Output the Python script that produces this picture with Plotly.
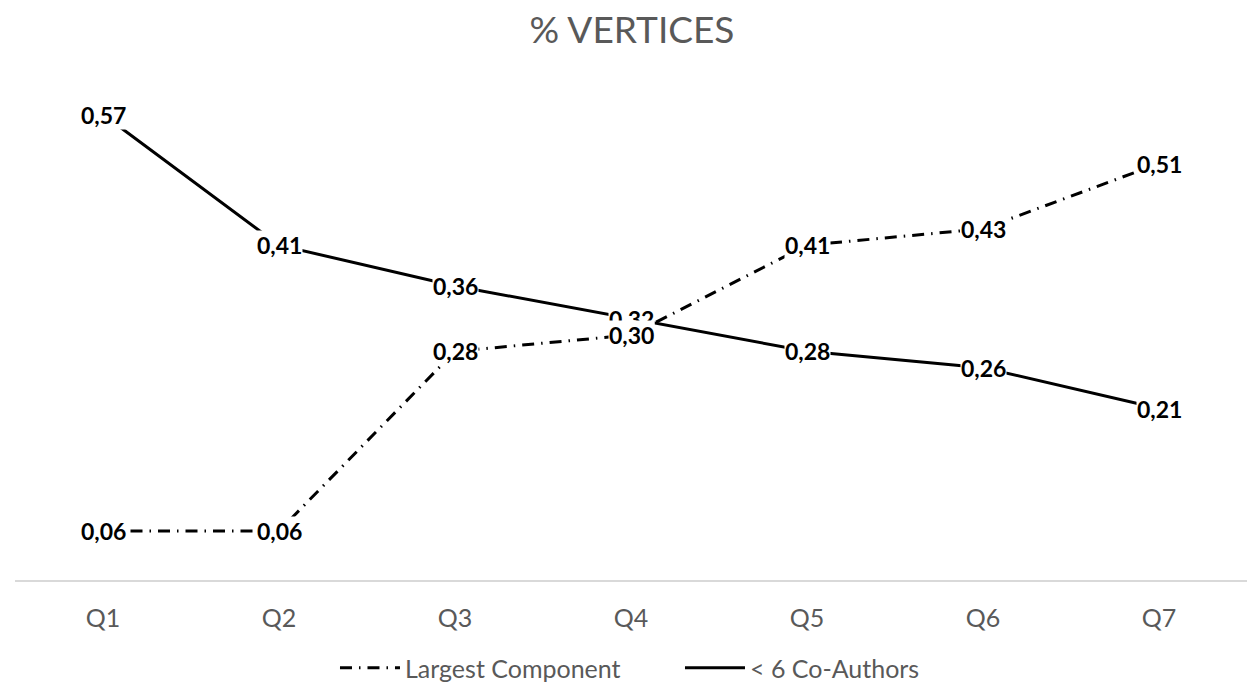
import plotly.graph_objects as go

categories = ["Q1", "Q2", "Q3", "Q4", "Q5", "Q6", "Q7"]
largest_component = [0.06, 0.06, 0.28, 0.30, 0.41, 0.43, 0.51]
less_6_coauthors = [0.57, 0.41, 0.36, 0.32, 0.28, 0.26, 0.21]

FONT = "Lato"
GRAY = "#595959"

fig = go.Figure()
fig.add_trace(go.Scatter(
    x=categories, y=largest_component, mode="lines", name="Largest Component",
    line=dict(color="black", width=3, dash="12px,7px,1.5px,7px"),
))
fig.add_trace(go.Scatter(
    x=categories, y=less_6_coauthors, mode="lines", name="< 6 Co-Authors",
    line=dict(color="black", width=3),
))

def fmt(v):
    return f"{v:.2f}".replace(".", ",")

anns = []
for series in (less_6_coauthors, largest_component):
    for c, v in zip(categories, series):
        anns.append(dict(
            x=c, y=v, xref="x", yref="y", text=fmt(v), showarrow=False,
            font=dict(family=FONT, size=23, color="black", weight="bold"),
            bgcolor="white", borderpad=0, xanchor="center", yanchor="middle",
        ))

fig.update_layout(
    width=1249, height=678,
    paper_bgcolor="white", plot_bgcolor="white",
    margin=dict(l=7, r=10, t=82, b=106, autoexpand=False),
    title=dict(text="% VERTICES", x=0.4996, xanchor="center", y=0.968, yanchor="middle",
               xref="container", yref="container",
               font=dict(family=FONT, size=37, color=GRAY)),
    annotations=anns,
    showlegend=True,
    legend=dict(orientation="h", x=0.2618, xanchor="left", xref="container",
                y=0.0265, yanchor="middle", yref="container",
                font=dict(family=FONT, size=25, color=GRAY),
                itemwidth=60, traceorder="normal", entrywidth=270),
    xaxis=dict(type="category", range=[-0.5, 6.5], showgrid=False, zeroline=False,
               showline=True, linecolor="#d9d9d9", linewidth=2, ticks="",
               tickfont=dict(family=FONT, size=25, color=GRAY), ticklabelstandoff=15),
    yaxis=dict(range=[0, 0.6], visible=False, showgrid=False, zeroline=False),
)

fig.write_html("out.html")
